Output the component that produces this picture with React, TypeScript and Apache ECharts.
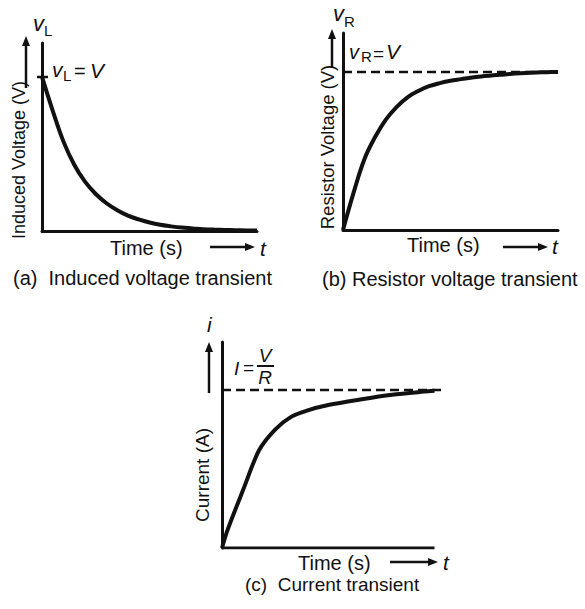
import React, { useEffect, useRef } from "react";
import * as echarts from "echarts";

// (a) induced voltage decay (fraction of V)
const timeA = [0, 0.5, 1, 1.5, 2, 2.5, 3, 3.5, 4, 4.5, 5, 5.5, 6, 6.5, 7, 7.5, 8, 8.5, 9, 9.5, 10];
const voltA = [1, 0.78, 0.58, 0.43, 0.32, 0.24, 0.18, 0.135, 0.1, 0.075, 0.055, 0.04, 0.03, 0.022, 0.017, 0.012, 0.009, 0.007, 0.005, 0.004, 0.003];
// (b) resistor voltage rise
const timeB = [0, 0.5, 1, 1.5, 2, 2.5, 3, 3.5, 4, 4.5, 5, 5.5, 6, 6.5, 7, 7.5, 8, 8.5, 9, 9.5, 10];
const voltB = [0, 0.24, 0.45, 0.59, 0.7, 0.78, 0.84, 0.88, 0.91, 0.93, 0.945, 0.955, 0.965, 0.973, 0.98, 0.985, 0.99, 0.994, 0.997, 0.999, 1.0];
// (c) current rise
const timeC = [0, 0.25, 1, 1.75, 2.5, 3.25, 4, 5, 6.5, 8, 9.5, 10];
const currC = [0, 0.11, 0.37, 0.62, 0.75, 0.83, 0.87, 0.905, 0.94, 0.97, 0.99, 0.995];
// steady-state levels
const levelB = [1, 1];
const levelC = [1, 1];

const FONT = '"Liberation Sans", Arial, Helvetica, sans-serif';
const INK = "#111";

function pairs(xs: number[], ys: number[]) {
  return xs.map((x, i) => [x, ys[i]]);
}

function txt(text: string, x: number, y: number, size: number, o: any = {}) {
  const align = o.align || "left";
  return {
    type: "text",
    x,
    y,
    rotation: o.rotation || 0,
    silent: true,
    style: {
      text,
      fontSize: size,
      fontFamily: FONT,
      fontStyle: o.italic ? "italic" : "normal",
      fill: INK,
      align,
      textAlign: align,
      verticalAlign: "middle",
      textVerticalAlign: "middle",
    },
  };
}

function seg(x1: number, y1: number, x2: number, y2: number, w = 2.5) {
  return {
    type: "line",
    silent: true,
    shape: { x1, y1, x2, y2 },
    style: { stroke: INK, lineWidth: w },
  };
}

function upArrow(x: number, yTop: number, yBot: number) {
  return [
    seg(x, yBot, x, yTop + 8, 2.5),
    { type: "polygon", silent: true, shape: { points: [[x, yTop], [x - 4, yTop + 10], [x + 4, yTop + 10]] }, style: { fill: INK } },
  ];
}

function rightArrow(xL: number, xR: number, y: number) {
  return [
    seg(xL, y, xR - 8, y, 2.5),
    { type: "polygon", silent: true, shape: { points: [[xR, y], [xR - 10, y - 4], [xR - 10, y + 4]] }, style: { fill: INK } },
  ];
}

function xAx(gi: number, max: number, showLine: boolean) {
  return {
    type: "value",
    gridIndex: gi,
    min: 0,
    max,
    axisLine: { show: showLine, onZero: false, lineStyle: { color: INK, width: 3 } },
    axisTick: { show: false },
    axisLabel: { show: false },
    splitLine: { show: false },
  };
}

function yAx(gi: number, max: number) {
  return {
    type: "value",
    gridIndex: gi,
    min: 0,
    max,
    axisLine: { show: true, onZero: false, lineStyle: { color: INK, width: 3 } },
    axisTick: { show: false },
    axisLabel: { show: false },
    splitLine: { show: false },
  };
}

export default function App() {
  const ref = useRef<HTMLDivElement>(null);
  useEffect(() => {
    document.body.style.margin = "0";
    if (!ref.current) return;
    const chart = echarts.init(ref.current, null, { renderer: "svg" });
    const curve = { color: INK, width: 4 };
    const dashed = { color: INK, width: 2.5, type: [9, 5] as any };
    const option: any = {
      animation: false,
      backgroundColor: "#fff",
      grid: [
        { left: 42, top: 43, width: 215, height: 188 },
        { left: 343, top: 33, width: 215, height: 197 },
        { left: 222, top: 342, width: 221, height: 206 },
      ],
      xAxis: [xAx(0, 10, true), xAx(1, 10, true), xAx(2, 10.4, false)],
      yAxis: [yAx(0, 1.22), yAx(1, 1.247), yAx(2, 1.304)],
      series: [
        { type: "line", xAxisIndex: 0, yAxisIndex: 0, data: pairs(timeA, voltA), smooth: 0.4, symbol: "none", lineStyle: curve },
        { type: "line", xAxisIndex: 1, yAxisIndex: 1, data: pairs([0, 10], levelB), symbol: "none", lineStyle: dashed },
        { type: "line", xAxisIndex: 1, yAxisIndex: 1, data: pairs(timeB, voltB), smooth: 0.4, symbol: "none", lineStyle: curve },
        { type: "line", xAxisIndex: 2, yAxisIndex: 2, data: pairs([0, 10.4], levelC), symbol: "none", lineStyle: dashed },
        { type: "line", xAxisIndex: 2, yAxisIndex: 2, data: pairs([0, 10], [0, 0]), symbol: "none", lineStyle: { color: INK, width: 3 } },
        { type: "line", xAxisIndex: 2, yAxisIndex: 2, data: pairs(timeC, currC), smooth: 0.3, symbol: "none", lineStyle: curve },
      ],
      graphic: [
        // (a)
        txt("v", 33, 23, 22, { italic: true }),
        txt("L", 44, 30, 15),
        seg(37, 77, 48, 77, 2.5),
        txt("v", 52, 69, 21, { italic: true }),
        txt("L", 63, 75, 15),
        txt("=", 74, 71, 20),
        txt("V", 90, 70, 21, { italic: true }),
        ...upArrow(26, 36, 88),
        txt("Induced Voltage (V)", 19, 160, 18, { align: "center", rotation: Math.PI / 2 }),
        txt("Time (s)", 110, 248, 20),
        ...rightArrow(210, 255, 247),
        txt("t", 260, 248, 21, { italic: true }),
        txt("(a)\u00a0 Induced voltage transient", 13, 278, 20),
        // (b)
        txt("v", 333, 13, 22, { italic: true }),
        txt("R", 344, 21, 15),
        txt("v", 349, 52, 20, { italic: true }),
        txt("R", 361, 56, 15),
        txt("=", 373, 53, 19),
        txt("V", 386, 51, 21, { italic: true }),
        ...upArrow(332, 29, 68),
        txt("Resistor Voltage (V)", 327, 147, 18.5, { align: "center", rotation: Math.PI / 2 }),
        txt("Time (s)", 407, 245, 20),
        ...rightArrow(503, 548, 247),
        txt("t", 552, 246, 21, { italic: true }),
        txt("(b) Resistor voltage transient", 322, 279, 20),
        // (c)
        txt("i", 207, 324, 21, { italic: true }),
        txt("I", 234, 368, 19, { italic: true }),
        txt("=", 243, 367, 19),
        txt("V", 265, 355, 19, { italic: true, align: "center" }),
        seg(257, 366, 274, 366, 2),
        txt("R", 265, 377, 19, { italic: true, align: "center" }),
        ...upArrow(209, 342, 393),
        txt("Current (A)", 202, 475, 19, { align: "center", rotation: Math.PI / 2 }),
        txt("Time (s)", 298, 563, 20),
        ...rightArrow(390, 438, 562),
        txt("t", 443, 562, 21, { italic: true }),
        txt("(c)\u00a0 Current transient", 245, 584, 19),
      ],
    };
    chart.setOption(option);
    return () => chart.dispose();
  }, []);
  return <div ref={ref} style={{ width: 585, height: 609 }} />;
}
